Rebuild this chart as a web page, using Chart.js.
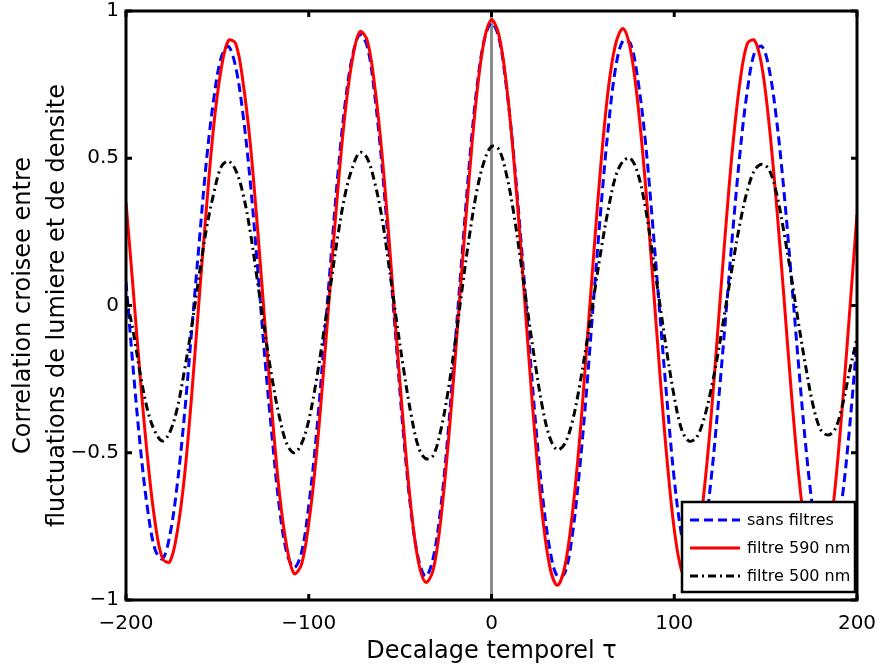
<!DOCTYPE html>
<html lang="fr">
<head>
<meta charset="utf-8">
<title>Correlation croisee</title>
<script src="https://cdn.jsdelivr.net/npm/chart.js@4"></script>
<style>
  html, body { margin: 0; padding: 0; background: #ffffff; }
  canvas { display: block; }
</style>
</head>
<body>
<canvas id="correlationChart" width="878" height="671"></canvas>
<script>
// Decalage temporel (axe X)
const tau = [-200,-196,-192,-188,-184,-180,-176,-172,-168,-164,-160,-156,-152,-148,-144,-140,-136,-132,-128,-124,
  -120,-116,-112,-108,-104,-100,-96,-92,-88,-84,-80,-76,-72,-68,-64,-60,-56,-52,-48,-44,-40,-36,-32,-28,-24,-20,
  -16,-12,-8,-4,0,4,8,12,16,20,24,28,32,36,40,44,48,52,56,60,64,68,72,76,80,84,88,92,96,100,104,108,112,116,120,
  124,128,132,136,140,144,148,152,156,160,164,168,172,176,180,184,188,192,196,200];

// sans filtres (bleu, tirets)
const sansFiltres = [0.08,-0.22,-0.49,-0.70,-0.83,
  -0.86,-0.78,-0.61,-0.37,-0.08,0.21,0.49,0.70,0.84,
  0.88,0.81,0.65,0.42,0.13,-0.18,-0.45,-0.69,-0.84,
  -0.89,-0.84,-0.68,-0.45,-0.16,0.15,0.45,0.69,0.85,0.92,
  0.88,0.72,0.48,0.18,-0.14,-0.45,-0.70,-0.86,-0.92,
  -0.86,-0.70,-0.45,-0.14,0.18,0.49,0.74,0.90,0.96,
  0.91,0.75,0.52,0.23,-0.08,-0.39,-0.65,-0.83,-0.92,
  -0.91,-0.79,-0.57,-0.29,0.03,0.34,0.61,0.81,0.90,
  0.89,0.77,0.57,0.29,-0.02,-0.32,-0.59,-0.78,-0.89,
  -0.89,-0.79,-0.60,-0.34,-0.05,0.25,0.52,0.73,0.86,
  0.88,0.80,0.63,0.39,0.10,-0.20,-0.48,-0.70,-0.84,
  -0.88,-0.81,-0.65,-0.41,-0.12];

// filtre 590 nm (rouge, trait plein)
const filtre590 = [0.35,0.05,-0.26,-0.53,-0.74,-0.86,
  -0.87,-0.77,-0.58,-0.30,0.02,0.33,0.61,0.80,0.90,
  0.89,0.76,0.55,0.26,-0.06,-0.37,-0.64,-0.82,-0.91,
  -0.88,-0.74,-0.52,-0.23,0.09,0.40,0.66,0.84,0.93,
  0.90,0.75,0.52,0.22,-0.11,-0.42,-0.69,-0.87,-0.94,
  -0.90,-0.74,-0.49,-0.19,0.14,0.45,0.72,0.90,0.97,
  0.92,0.76,0.51,0.20,-0.14,-0.46,-0.72,-0.89,-0.95,
  -0.89,-0.72,-0.47,-0.15,0.18,0.49,0.74,0.89,
  0.94,0.87,0.69,0.43,0.11,-0.22,-0.52,-0.76,-0.90,
  -0.93,-0.84,-0.65,-0.39,-0.07,0.25,0.54,0.76,0.89,
  0.90,0.81,0.61,0.34,0.03,-0.29,-0.57,-0.78,-0.91,
  -0.92,-0.82,-0.62,-0.34,-0.02,0.31];

// filtre 500 nm (noir, tiret-point)
const filtre500 = [0.03,-0.09,-0.24,-0.36,-0.43,
  -0.46,-0.43,-0.35,-0.22,-0.07,0.10,0.26,0.38,0.47,
  0.49,0.46,0.38,0.25,0.08,-0.09,-0.25,-0.38,-0.47,
  -0.50,-0.47,-0.39,-0.26,-0.10,0.07,0.24,0.38,0.47,0.52,
  0.50,0.42,0.30,0.13,-0.05,-0.22,-0.37,-0.48,-0.52,
  -0.51,-0.43,-0.30,-0.13,0.06,0.24,0.39,0.49,0.54,
  0.53,0.45,0.32,0.15,-0.03,-0.20,-0.35,-0.45,-0.49,
  -0.47,-0.40,-0.28,-0.13,0.03,0.19,0.33,0.44,0.49,
  0.50,0.45,0.34,0.18,0.01,-0.16,-0.31,-0.42,-0.46,
  -0.45,-0.39,-0.29,-0.16,-0.01,0.14,0.28,0.39,0.46,
  0.48,0.46,0.38,0.25,0.10,-0.06,-0.21,-0.34,-0.42,
  -0.44,-0.42,-0.34,-0.22,-0.11];

// Ligne verticale grise a tau = 0
const zeroLineX = [0, 0];
const zeroLineY = [-1, 1];

// Graduations
const xTicks = [-200, -100, 0, 100, 200];
const yTicks = [-1, -0.5, 0, 0.5, 1];

const FONT = "'DejaVu Sans', 'Liberation Sans', Arial, sans-serif";

// Transforme deux tableaux en points {x, y}
function toPoints(xs, ys) {
    return xs.map((x, i) => ({ x: x, y: ys[i] }));
}

// Signe moins typographique comme dans MATLAB
function minus(v) {
    return String(v).replace('-', '\u2212');
}

// Cadre noir, graduations vers l'interieur et legende dans le coin
const framePlugin = {
    id: 'framePlugin',
    afterDraw(chart) {
        const ctx = chart.ctx;
        const a = chart.chartArea;
        const xs = chart.scales.x;
        const ys = chart.scales.y;
        ctx.save();
        ctx.strokeStyle = '#000000';
        ctx.lineWidth = 3;
        ctx.setLineDash([]);
        ctx.strokeRect(a.left, a.top, a.right - a.left, a.bottom - a.top);

        // petites graduations
        const len = 6;
        ctx.beginPath();
        xs.ticks.forEach(t => {
            const px = xs.getPixelForValue(t.value);
            ctx.moveTo(px, a.bottom); ctx.lineTo(px, a.bottom - len);
            ctx.moveTo(px, a.top); ctx.lineTo(px, a.top + len);
        });
        ys.ticks.forEach(t => {
            const py = ys.getPixelForValue(t.value);
            ctx.moveTo(a.left, py); ctx.lineTo(a.left + len, py);
            ctx.moveTo(a.right, py); ctx.lineTo(a.right - len, py);
        });
        ctx.stroke();

        // legende
        const box = { left: a.right - 175, top: a.bottom - 98, width: 173, height: 90 };
        ctx.fillStyle = '#ffffff';
        ctx.fillRect(box.left, box.top, box.width, box.height);
        ctx.lineWidth = 2.5;
        ctx.strokeRect(box.left, box.top, box.width, box.height);

        const items = chart.data.datasets.filter(d => d.label);
        ctx.font = '16px ' + FONT;
        ctx.textBaseline = 'middle';
        ctx.textAlign = 'left';
        items.forEach((d, i) => {
            const y = box.top + 18 + i * 28;
            ctx.strokeStyle = d.borderColor;
            ctx.lineWidth = d.borderWidth;
            ctx.setLineDash(d.borderDash || []);
            ctx.beginPath();
            ctx.moveTo(box.left + 8, y);
            ctx.lineTo(box.left + 58, y);
            ctx.stroke();
            ctx.setLineDash([]);
            ctx.fillStyle = '#000000';
            ctx.fillText(d.label, box.left + 65, y + 1);
        });
        ctx.restore();
    }
};

const ctx = document.getElementById('correlationChart').getContext('2d');

new Chart(ctx, {
    type: 'line',
    data: {
        datasets: [{
            label: 'sans filtres',
            data: toPoints(tau, sansFiltres),
            borderColor: '#0000ff',
            borderWidth: 3,
            borderDash: [9, 5],
            order: 3
        }, {
            label: 'filtre 590 nm',
            data: toPoints(tau, filtre590),
            borderColor: '#ff0000',
            borderWidth: 3,
            order: 2
        }, {
            label: 'filtre 500 nm',
            data: toPoints(tau, filtre500),
            borderColor: '#000000',
            borderWidth: 3,
            borderDash: [8, 4, 2, 4],
            order: 1
        }, {
            // ligne grise verticale, dessinee sous les courbes
            data: toPoints(zeroLineX, zeroLineY),
            borderColor: '#8c8c8c',
            borderWidth: 3,
            tension: 0,
            order: 4
        }]
    },
    options: {
        responsive: false,
        animation: false,
        devicePixelRatio: 1,
        elements: {
            point: { radius: 0 },
            line: { tension: 0.35, fill: false }
        },
        layout: {
            padding: { top: 11, right: 21, left: 0, bottom: 0 }
        },
        plugins: {
            legend: { display: false },
            tooltip: { enabled: false }
        },
        scales: {
            x: {
                type: 'linear',
                min: -200,
                max: 200,
                afterBuildTicks: s => { s.ticks = xTicks.map(v => ({ value: v })); },
                afterFit: s => { s.height = 71; s.paddingLeft = 0; s.paddingRight = 0; },
                grid: { display: false, drawTicks: false },
                border: { display: false },
                ticks: {
                    color: '#000000',
                    font: { family: FONT, size: 20 },
                    padding: 12,
                    maxRotation: 0,
                    callback: v => minus(v)
                },
                title: {
                    display: true,
                    text: 'Decalage temporel \u03c4',
                    color: '#000000',
                    font: { family: FONT, size: 24, lineHeight: 1.25 },
                    padding: { top: 0, bottom: 4 }
                }
            },
            y: {
                min: -1,
                max: 1,
                afterBuildTicks: s => { s.ticks = yTicks.map(v => ({ value: v })); },
                afterFit: s => { s.width = 126; s.paddingTop = 0; s.paddingBottom = 0; },
                grid: { display: false, drawTicks: false },
                border: { display: false },
                ticks: {
                    color: '#000000',
                    font: { family: FONT, size: 20 },
                    padding: 7,
                    callback: v => minus(v)
                },
                title: {
                    display: true,
                    text: ['Correlation croisee entre', 'fluctuations de lumiere et de densite'],
                    color: '#000000',
                    font: { family: FONT, size: 24, lineHeight: 1.4 },
                    padding: { top: 7, bottom: 0 }
                }
            }
        }
    },
    plugins: [framePlugin]
});
</script>
</body>
</html>
